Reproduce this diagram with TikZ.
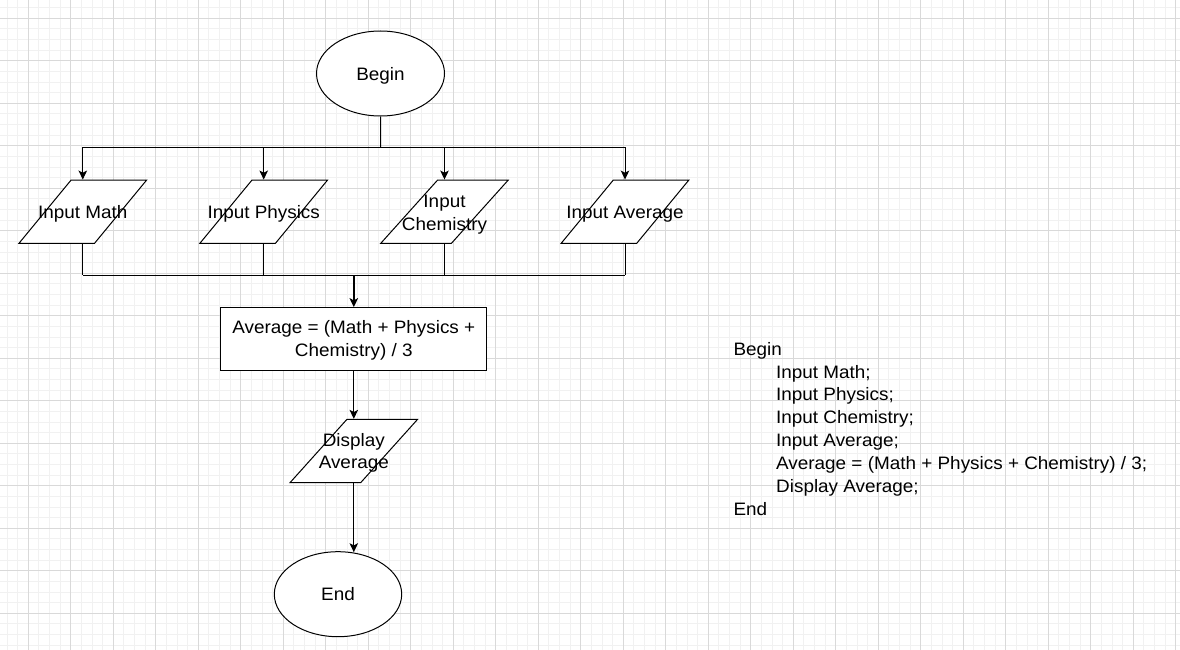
\documentclass[tikz,border=0pt]{standalone}
\usepackage{fontspec}
\setmainfont{Liberation Sans}[FakeStretch=1.05]
\usetikzlibrary{shapes.geometric,arrows.meta}
\definecolor{gridmajor}{HTML}{D9D9D9}
\definecolor{gridminor}{HTML}{F1F1F1}
\newcommand\zwc[2][2.7pt]{\raisebox{-#1}[\height][\depth]{\makebox[0pt][c]{\begin{tabular}{@{}c@{}}#2\end{tabular}}}}
\begin{document}
\begin{tikzpicture}[x=1pt,y=-1pt,
  every node/.style={font=\fontsize{18}{22.8}\selectfont, text=black},
  conn/.style={draw=black, line width=1pt},
  arr/.style={conn, -{Stealth[length=9pt,width=8.5pt,inset=2.2pt]}},
  terminal/.style={draw=black, line width=1pt, fill=white, ellipse, inner sep=0pt, text depth=0pt, minimum width=128pt, minimum height=85pt},
  iobox/.style={draw=black, line width=1pt, fill=white, trapezium, trapezium left angle=71.6, trapezium right angle=108.4, trapezium stretches=true, inner sep=2pt, minimum width=127.7pt, minimum height=63.3pt},
  procbox/.style={draw=black, line width=1pt, fill=white, rectangle, inner sep=2pt, minimum width=265.7pt, minimum height=63.3pt},
  codeline/.style={anchor=base west, inner sep=0pt}
]
\useasboundingbox (0,0) rectangle (1180,650);
\fill[white] (0,0) rectangle (1180,650);
\begin{scope}
\clip (0,0) rectangle (1180,650);
\foreach \i in {0,...,111} {\draw[gridminor, line width=1pt] ({7.05+10.625*\i},0) -- ({7.05+10.625*\i},650);}
\foreach \j in {0,...,61} {\draw[gridminor, line width=1pt] (0,{7.675+10.625*\j}) -- (1180,{7.675+10.625*\j});}
\foreach \i in {0,...,27} {\draw[gridmajor, line width=1pt] ({28.3+42.5*\i},0) -- ({28.3+42.5*\i},650);}
\foreach \j in {0,...,15} {\draw[gridmajor, line width=1pt] (0,{18.3+42.5*\j}) -- (1180,{18.3+42.5*\j});}
\end{scope}

% nodes
\node[terminal] (begin) at (380.5,73.5) {Begin};
\node[iobox] (math) at (82.8,211.7) {\zwc{Input Math}};
\node[iobox] (phys) at (263.7,211.7) {\zwc{Input Physics}};
\node[iobox] (chem) at (444.5,211.7) {\zwc{Input\\Chemistry}};
\node[iobox] (avgin) at (625,211.7) {\zwc{Input Average}};
\node[procbox] (calc) at (353.8,339.3) {\zwc[1.4pt]{Average = (Math + Physics +\\Chemistry) / 3}};
\node[iobox] (disp) at (353.8,451) {\zwc[2pt]{Display\\Average}};
\node[terminal, minimum width=127.4pt] (endn) at (338,594.2) {End};

\coordinate (tb) at (380.7,147.3);
\coordinate (bb) at (353.3,275.3);

% top distribution
\draw[conn] (begin.south) -- (tb);
\draw[conn] (math.north |- tb) -- (avgin.north |- tb);
\draw[arr] (math.north |- tb) -- (math.north);
\draw[arr] (phys.north |- tb) -- (phys.north);
\draw[arr] (chem.north |- tb) -- (chem.north);
\draw[arr] (avgin.north |- tb) -- (avgin.north);

% bottom collection
\draw[conn] (math.south) -- (math.south |- bb);
\draw[conn] (phys.south) -- (phys.south |- bb);
\draw[conn] (chem.south) -- (chem.south |- bb);
\draw[conn] (avgin.south) -- (avgin.south |- bb);
\draw[conn] (math.south |- bb) -- (avgin.south |- bb);
\draw[arr, line width=1.6pt] (calc.north |- bb) -- (calc.north);

\draw[arr] (calc.south) -- (disp.north);
\draw[arr, shorten >=-1pt] (disp.south) -- (disp.south |- endn.north);

% pseudocode
\node[codeline] (c1) at (733.3,355) {Begin};
\node[codeline] (c2) at (776,378) {Input Math;};
\node[codeline] (c3) at (776,400.9) {Input Physics;};
\node[codeline] (c4) at (776,423.8) {Input Chemistry;};
\node[codeline] (c5) at (776,446.7) {Input Average;};
\node[codeline] (c6) at (776,469.6) {Average = (Math + Physics + Chemistry) / 3;};
\node[codeline] (c7) at (776,492.4) {Display Average;};
\node[codeline] (c8) at (733.3,515.3) {End};
\end{tikzpicture}
\end{document}
